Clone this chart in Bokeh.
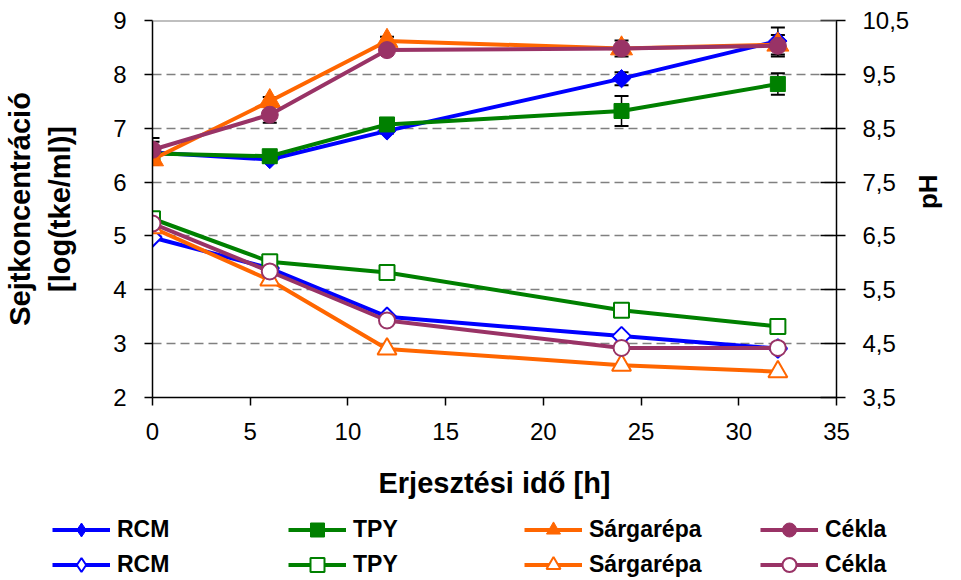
import numpy as np
from bokeh.plotting import figure
from bokeh.layouts import column
from bokeh.models import (Range1d, LinearAxis, FixedTicker, Span, Legend, LegendItem,
                          CustomJSTickFormatter)
from bokeh.embed import file_html
from bokeh.resources import INLINE

# ---------------- data ----------------
hours = [0, 6, 12, 24, 32]

rcm_cell = [6.55, 6.42, 6.95, 7.92, 8.62]
rcm_err = [0.20, 0.06, 0.05, 0.12, 0.25]
tpy_cell = [6.53, 6.48, 7.07, 7.32, 7.82]
tpy_err = [0.10, 0.05, 0.05, 0.28, 0.20]
sarg_cell = [6.42, 7.50, 8.62, 8.48, 8.55]
sarg_err = [0.10, 0.08, 0.08, 0.05, 0.05]
cekla_cell = [6.60, 7.25, 8.45, 8.48, 8.53]
cekla_err = [0.22, 0.15, 0.05, 0.15, 0.20]

rcm_ph = [6.47, 5.90, 5.00, 4.64, 4.41]
tpy_ph = [6.82, 6.02, 5.82, 5.12, 4.82]
sarg_ph = [6.65, 5.68, 4.40, 4.10, 3.98]
cekla_ph = [6.73, 5.84, 4.93, 4.42, 4.42]

series_names = ["RCM", "TPY", "Sárgarépa", "Cékla"]
x_ticks = [0, 5, 10, 15, 20, 25, 30, 35]
y_ticks = [2, 3, 4, 5, 6, 7, 8, 9]
ph_ticks = [3.5, 4.5, 5.5, 6.5, 7.5, 8.5, 9.5, 10.5]

# ---------------- styling ----------------
FONT = "Liberation Sans"
colors = ["#0000FF", "#008000", "#FF6600", "#993366"]
markers = ["square", "square", "triangle", "circle"]
legend_markers = ["diamond", "square", "triangle", "circle"]
angles = [np.pi / 4, 0, 0, 0]
fsize = [13, 15, 22, 17]
hsize = [13, 15, 19, 16]

p = figure(width=961, height=509, output_backend="svg", toolbar_location=None,
           x_range=Range1d(0, 35), y_range=Range1d(2, 9),
           min_border_left=152, min_border_right=118, min_border_top=20,
           min_border_bottom=112)
p.frame_align = False
p.extra_y_ranges = {"ph": Range1d(3.5, 10.5)}
p.outline_line_color = None
p.background_fill_color = "white"
p.border_fill_color = "white"

# grid
p.xgrid.grid_line_color = None
p.ygrid.ticker = FixedTicker(ticks=[3, 4, 5, 6, 7, 8])
p.ygrid.grid_line_color = "#808080"
p.ygrid.grid_line_dash = "9 5"
p.ygrid.grid_line_width = 1.5
p.add_layout(Span(location=9, dimension="width", line_color="#808080", line_width=2))

def style_axis(ax, tick_in=0, tick_out=8, standoff=12):
    ax.axis_line_color = "black"
    ax.axis_line_width = 1.5
    ax.major_tick_line_color = "black"
    ax.major_tick_line_width = 1.5
    ax.major_tick_in = tick_in
    ax.major_tick_out = tick_out
    ax.minor_tick_line_color = None
    ax.major_label_text_font = FONT
    ax.major_label_text_font_size = "24px"
    ax.major_label_text_color = "black"
    ax.major_label_standoff = standoff
    ax.axis_label_text_font = FONT
    ax.axis_label_text_font_style = "bold"
    ax.axis_label_text_color = "black"

xa = p.xaxis[0]
xa.ticker = FixedTicker(ticks=x_ticks)
style_axis(xa, 0, 8, 17)
xa.axis_label = "Erjesztési idő [h]"
xa.axis_label_text_font_size = "29px"
xa.axis_label_standoff = 24

ya = p.yaxis[0]
ya.ticker = FixedTicker(ticks=y_ticks)
style_axis(ya, 0, 8, 18)
ya.axis_label = "Sejtkoncentráció\n[log(tke/ml)]"
ya.axis_label_text_font_size = "29px"
ya.axis_label_text_line_height = 1.25
ya.axis_label_standoff = 34

ra = LinearAxis(y_range_name="ph", ticker=FixedTicker(ticks=ph_ticks),
                formatter=CustomJSTickFormatter(code="return tick.toFixed(1).replace('.', ',');"))
style_axis(ra, 16, 9, 17)
ra.axis_label = "pH"
ra.axis_label_text_font_size = "26px"
ra.axis_label_standoff = 16
ra.axis_label_text_baseline = "middle"
ra.axis_label_orientation = np.pi / 2
p.add_layout(ra, "right")

cells = [rcm_cell, tpy_cell, sarg_cell, cekla_cell]
errs = [rcm_err, tpy_err, sarg_err, cekla_err]
phs = [rcm_ph, tpy_ph, sarg_ph, cekla_ph]

# error bars (drawn first, under markers)
for vals, e in zip(cells, errs):
    up = [v + d for v, d in zip(vals, e)]
    lo = [v - d for v, d in zip(vals, e)]
    p.segment(x0=hours, y0=lo, x1=hours, y1=up, line_color="black", line_width=1.5)
    p.scatter(x=hours + hours, y=up + lo, marker="dash", size=14,
              line_color="black", line_width=2)

for col, mk, ang, fs, hs, vals, ph in zip(colors, markers, angles, fsize, hsize, cells, phs):
    p.line(hours, vals, line_color=col, line_width=4)
    p.scatter(hours, vals, marker=mk, angle=ang, size=fs, fill_color=col,
              line_color=col, line_width=1)
    p.line(hours, ph, line_color=col, line_width=4, y_range_name="ph")
    p.scatter(hours, ph, marker=mk, angle=ang, size=hs, fill_color="white",
              line_color=col, line_width=2, y_range_name="ph")

# ---------------- legend strip ----------------
pl = figure(width=961, height=71, output_backend="svg", toolbar_location=None,
            x_range=Range1d(0, 1), y_range=Range1d(0, 1),
            x_axis_type=None, y_axis_type=None,
            min_border_left=0, min_border_right=0, min_border_top=0, min_border_bottom=0)
pl.frame_align = False
pl.outline_line_color = None
pl.xgrid.grid_line_color = None
pl.ygrid.grid_line_color = None

# legend-only proxies, placed outside the visible range of the strip
px = [-5]
py = [-5]
filled_items = []
hollow_items = []
for name, col, mk in zip(series_names, colors, legend_markers):
    l1 = pl.line(px, py, line_color=col, line_width=4)
    m1 = pl.scatter(px, py, marker=mk, fill_color=col, line_color=col, line_width=1)
    l2 = pl.line(px, py, line_color=col, line_width=4)
    m2 = pl.scatter(px, py, marker=mk, fill_color="white", line_color=col, line_width=2)
    filled_items.append(LegendItem(label=name, renderers=[l1, m1]))
    hollow_items.append(LegendItem(label=name, renderers=[l2, m2]))

legend = Legend(items=filled_items + hollow_items, orientation="horizontal", ncols=4,
                location=(52, -2), glyph_width=58, glyph_height=35,
                label_height=35, label_width=171, label_standoff=7, spacing=0,
                padding=0, margin=0, border_line_color=None,
                background_fill_alpha=0,
                label_text_font=FONT, label_text_font_style="bold",
                label_text_font_size="23px", label_text_color="black")
pl.add_layout(legend, "center")

open("out.html", "w").write(file_html(column(p, pl), INLINE))
